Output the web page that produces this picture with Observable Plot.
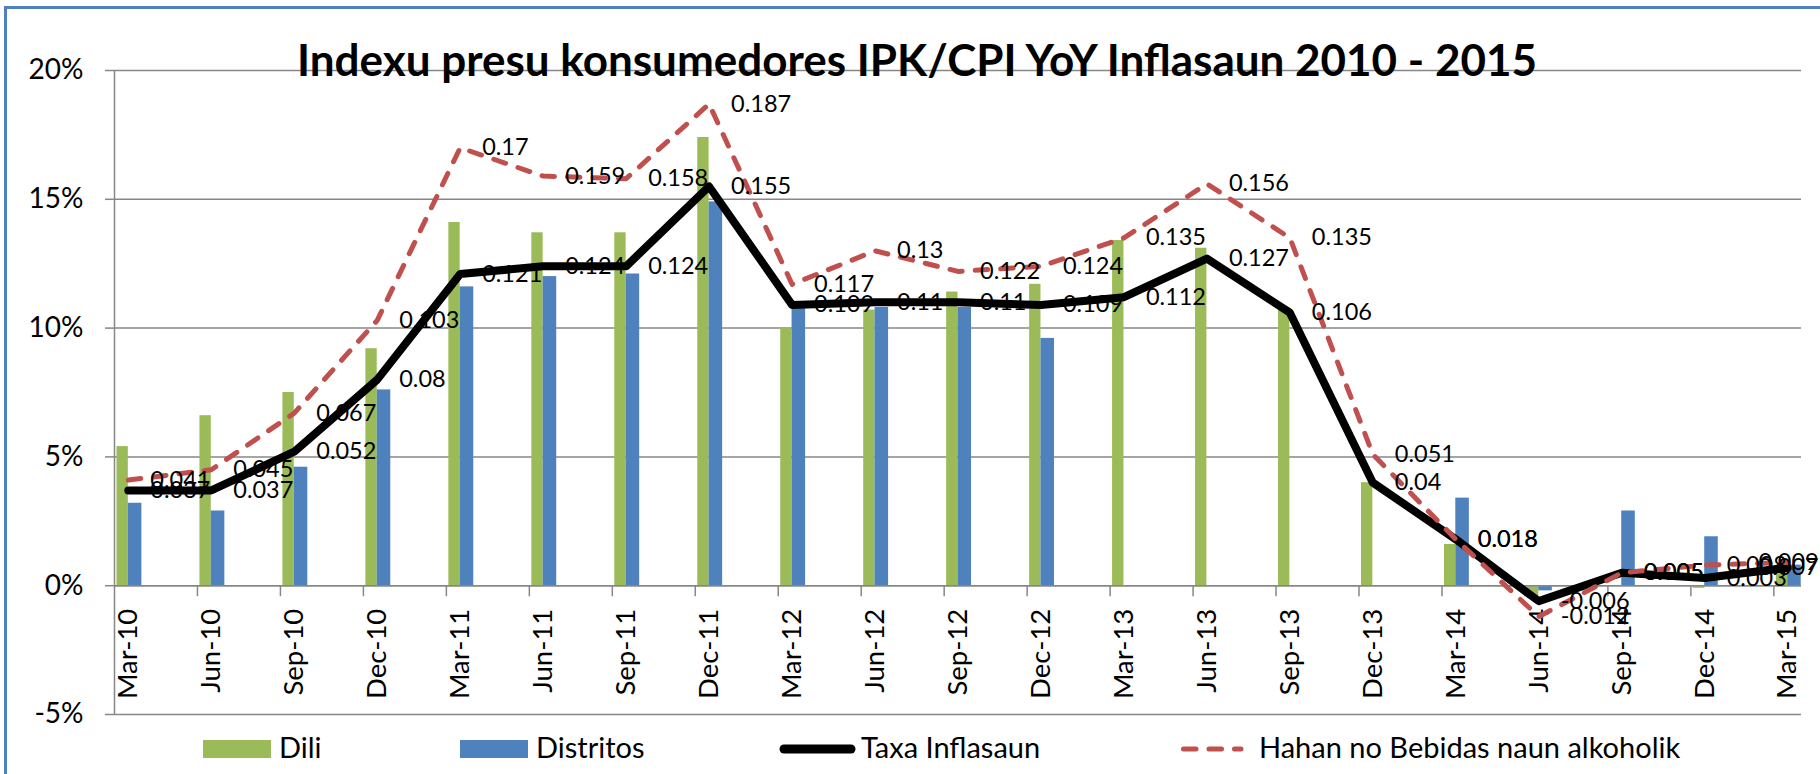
<!DOCTYPE html>
<html><head><meta charset="utf-8">
<script src="https://cdn.jsdelivr.net/npm/d3@7"></script>
<script src="https://cdn.jsdelivr.net/npm/@observablehq/plot@0.6"></script>
<style>
html,body{margin:0;padding:0;background:#fff;}
#wrap{position:relative;width:1820px;height:774px;overflow:hidden;font-family:Lato, "Open Sans", sans-serif;}
#wrap svg{position:absolute;left:0;top:0;}
#frame{position:absolute;left:4px;top:6px;width:2000px;height:1000px;border:3px solid #4F81BD;pointer-events:none;}
</style></head>
<body><div id="wrap"></div>
<script>
const titleText = "Indexu presu konsumedores IPK/CPI YoY Inflasaun 2010 - 2015";
const dates = ["Mar-10","Jun-10","Sep-10","Dec-10","Mar-11","Jun-11","Sep-11","Dec-11","Mar-12","Jun-12","Sep-12","Dec-12","Mar-13","Jun-13","Sep-13","Dec-13","Mar-14","Jun-14","Sep-14","Dec-14","Mar-15"];
const dili      = [0.054,0.066,0.075,0.092,0.141,0.137,0.137,0.174,0.100,0.107,0.114,0.117,0.134,0.131,0.108,0.040,0.016,-0.005,0.000,-0.001,0.005];
const distritos = [0.032,0.029,0.046,0.076,0.116,0.120,0.121,0.149,0.108,0.108,0.108,0.096,null,null,null,null,0.034,-0.002,0.029,0.019,0.008];
const taxa      = [0.037,0.037,0.052,0.08,0.121,0.124,0.124,0.155,0.109,0.11,0.11,0.109,0.112,0.127,0.106,0.04,0.018,-0.006,0.005,0.003,0.007];
const hahan     = [0.041,0.045,0.067,0.103,0.17,0.159,0.158,0.187,0.117,0.13,0.122,0.124,0.135,0.156,0.135,0.051,0.018,-0.012,0.005,0.008,0.009];
const yTicks = [-0.05,0,0.05,0.10,0.15,0.20];
const seriesNames = ["Dili","Distritos","Taxa Inflasaun","Hahan no Bebidas naun alkoholik"];

const GREEN = "#9BBB59", BLUE = "#4F81BD", RED = "#C0504D", GRID = "#878787";

// month-slot index: each quarter is 3 monthly slots on a date axis
const rows = dates.map((d, i) => ({date: d, m: 3 * i, dili: dili[i], distritos: distritos[i], taxa: taxa[i], hahan: hahan[i]}));
const tickMonths = rows.slice(1).map(d => d.m);
const pct = d => `${Math.round(d * 100)}%`;
const cx = d => d.m + 0.5;
const last = rows.slice(-1), body = rows.slice(0, -1);
const LBL = 23.5;

const chart = Plot.plot({
  width: 1820, height: 774,
  marginLeft: 114, marginRight: 19, marginTop: 70, marginBottom: 60,
  style: {background: "transparent", fontFamily: "Lato, 'Open Sans', sans-serif", color: "black"},
  x: {domain: [0, 61], axis: null},
  y: {domain: [-0.05, 0.20], label: null},
  marks: [
    Plot.ruleY(yTicks, {stroke: GRID, strokeWidth: 1.5}),
    Plot.axisY({ticks: yTicks, tickFormat: pct, tickSize: 9, tickPadding: 22, fontSize: 28, stroke: GRID, strokeWidth: 1.5, label: null}),
    Plot.rect(rows, {x1: d => d.m + 0.09, x2: d => d.m + 0.5, y1: 0, y2: "dili", fill: GREEN}),
    Plot.rect(rows.filter(d => d.distritos != null), {x1: d => d.m + 0.5, x2: d => d.m + 0.99, y1: 0, y2: "distritos", fill: BLUE}),
    Plot.ruleX([0], {stroke: GRID, strokeWidth: 1.5}),
    Plot.ruleY([0], {stroke: GRID, strokeWidth: 1.5}),
    Plot.ruleX(tickMonths, {x: d => d, y1: 0, y2: 0, insetBottom: -11, stroke: GRID, strokeWidth: 1.5}),
    Plot.text(rows, {x: cx, y: 0, text: "date", rotate: -90, textAnchor: "end", lineAnchor: "middle", dy: 23, fontSize: 27.5, fill: "black"}),
    Plot.line(rows, {x: cx, y: "taxa", stroke: "black", strokeWidth: 8, strokeLinejoin: "round", strokeLinecap: "round"}),
    Plot.line(rows, {x: cx, y: "hahan", stroke: RED, strokeWidth: 5, strokeDasharray: "12.5,13", strokeLinecap: "round", strokeLinejoin: "round"}),
    Plot.text(body, {x: cx, y: "taxa", text: d => String(d.taxa), dx: 22, textAnchor: "start", lineAnchor: "middle", fontSize: LBL, fill: "black"}),
    Plot.text(body, {x: cx, y: "hahan", text: d => String(d.hahan), dx: 22, textAnchor: "start", lineAnchor: "middle", fontSize: LBL, fill: "black"}),
    Plot.text(last, {x: cx, y: "taxa", text: d => String(d.taxa), dx: 31, textAnchor: "end", lineAnchor: "middle", fontSize: LBL, fill: "black"}),
    Plot.text(last, {x: cx, y: "hahan", text: d => String(d.hahan), dx: 31, textAnchor: "end", lineAnchor: "middle", fontSize: LBL, fill: "black"}),
    Plot.text([titleText], {frameAnchor: "top", text: d => d, dx: -41, dy: 5, lineAnchor: "bottom", fontSize: 44, fontWeight: "bold", fill: "black"})
  ]
});

const wrap = d3.select("#wrap");
wrap.node().appendChild(chart);

// legend (below the plot area, inside the chart frame)
const leg = wrap.append("svg").attr("width", 1820).attr("height", 774).style("pointer-events", "none")
  .style("font-family", "Lato, 'Open Sans', sans-serif");
const legendItems = [
  {name: seriesNames[0], kind: "rect", color: GREEN, x: 203, tx: 279},
  {name: seriesNames[1], kind: "rect", color: BLUE, x: 460, tx: 536},
  {name: seriesNames[2], kind: "line", color: "black", x: 780, tx: 861},
  {name: seriesNames[3], kind: "dash", color: RED, x: 1181, tx: 1259}
];
for (const it of legendItems) {
  if (it.kind === "rect") {
    leg.append("rect").attr("x", it.x).attr("y", 740).attr("width", 68).attr("height", 18).attr("fill", it.color);
  } else if (it.kind === "line") {
    leg.append("line").attr("x1", it.x + 4).attr("x2", it.x + 71).attr("y1", 749).attr("y2", 749)
      .attr("stroke", it.color).attr("stroke-width", 9).attr("stroke-linecap", "round");
  } else {
    leg.append("line").attr("x1", it.x + 2.5).attr("x2", it.x + 60).attr("y1", 749).attr("y2", 749)
      .attr("stroke", it.color).attr("stroke-width", 5).attr("stroke-linecap", "round").attr("stroke-dasharray", "12.5,13");
  }
  leg.append("text").attr("x", it.tx).attr("y", 758).attr("font-size", 29).attr("fill", "black").text(it.name);
}
wrap.append("div").attr("id", "frame");
</script>
</body></html>
